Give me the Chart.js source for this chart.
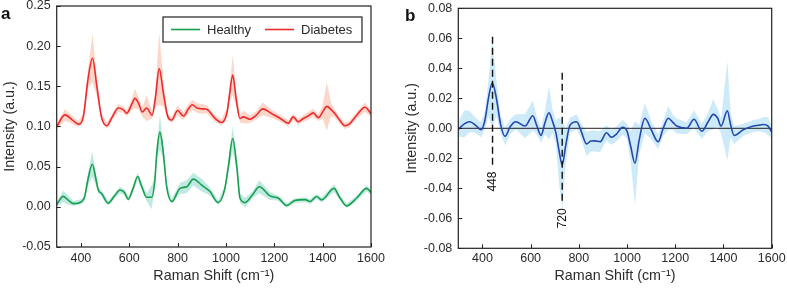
<!DOCTYPE html>
<html>
<head>
<meta charset="utf-8">
<script src="https://cdn.jsdelivr.net/npm/chart.js@4.4.1/dist/chart.umd.min.js"></script>
<style>
  body { margin: 0; background: #fff; }
  #wrap { position: relative; width: 787px; height: 288px; }
  canvas { position: absolute; top: 0; }
  #chart-a { left: 0; }
  #chart-b { left: 390px; }
</style>
</head>
<body>
<div id="wrap">
  <canvas id="chart-a" width="390" height="288"></canvas>
  <canvas id="chart-b" width="397" height="288"></canvas>
</div>
<script>
const shiftTicks = [400, 600, 800, 1000, 1200, 1400, 1600];
const intensityTicksA = [-0.05, 0, 0.05, 0.10, 0.15, 0.20, 0.25];
const intensityTicksB = [-0.08, -0.06, -0.04, -0.02, 0, 0.02, 0.04, 0.06, 0.08];

// panel a - diabetes
const diabetesShift = [300, 334, 365, 390, 410, 430, 448, 466, 485, 507, 530, 555, 575, 590, 608, 624, 640, 654, 672, 695, 708, 724, 742, 760, 776, 800, 824, 845, 861, 880, 900, 920, 955, 982, 1005, 1015, 1028, 1042, 1058, 1072, 1099, 1125, 1152, 1189, 1225, 1258, 1278, 1299, 1320, 1340, 1361, 1382, 1400, 1417, 1435, 1451, 1470, 1492, 1510, 1541, 1575, 1600];
const diabetesMean = [0.100, 0.1145, 0.108, 0.103, 0.112, 0.160, 0.185, 0.150, 0.112, 0.101, 0.112, 0.123, 0.121, 0.1165, 0.126, 0.135, 0.128, 0.118, 0.123, 0.114, 0.135, 0.172, 0.140, 0.112, 0.108, 0.120, 0.113, 0.122, 0.127, 0.123, 0.122, 0.1215, 0.110, 0.105, 0.118, 0.140, 0.164, 0.135, 0.110, 0.112, 0.109, 0.114, 0.122, 0.116, 0.110, 0.104, 0.112, 0.106, 0.110, 0.113, 0.117, 0.111, 0.118, 0.125, 0.121, 0.116, 0.108, 0.101, 0.103, 0.114, 0.124, 0.116];
const diabetesSd = [0.004, 0.007, 0.005, 0.004, 0.005, 0.012, 0.030, 0.012, 0.005, 0.004, 0.004, 0.005, 0.004, 0.004, 0.006, 0.012, 0.007, 0.006, 0.016, 0.004, 0.010, 0.045, 0.015, 0.004, 0.004, 0.006, 0.005, 0.006, 0.006, 0.006, 0.006, 0.005, 0.004, 0.004, 0.006, 0.010, 0.025, 0.010, 0.005, 0.008, 0.005, 0.005, 0.008, 0.005, 0.004, 0.004, 0.004, 0.004, 0.004, 0.005, 0.005, 0.004, 0.008, 0.030, 0.008, 0.005, 0.004, 0.004, 0.004, 0.004, 0.006, 0.004];

// panel a - healthy
const healthyShift = [300, 327, 345, 369, 403, 415, 430, 447, 462, 472, 486, 513, 540, 562, 580, 596, 615, 635, 652, 672, 693, 705, 715, 727, 740, 755, 776, 810, 838, 865, 900, 934, 968, 995, 1010, 1028, 1045, 1058, 1079, 1110, 1138, 1182, 1216, 1251, 1285, 1327, 1348, 1375, 1396, 1447, 1470, 1499, 1541, 1582, 1600];
const healthyMean = [0.003, 0.013, 0.009, 0.004, 0.0066, 0.012, 0.035, 0.053, 0.035, 0.021, 0.0166, 0.0046, 0.014, 0.021, 0.018, 0.0095, 0.022, 0.0377, 0.025, 0.012, 0.012, 0.030, 0.070, 0.093, 0.070, 0.025, 0.0066, 0.023, 0.025, 0.0345, 0.027, 0.019, 0.0053, 0.022, 0.050, 0.085, 0.050, 0.011, 0.0053, 0.015, 0.025, 0.0136, 0.011, 0.0016, 0.0078, 0.009, 0.0066, 0.0128, 0.0086, 0.023, 0.012, 0.0012, 0.011, 0.023, 0.018];
const healthySd = [0.003, 0.007, 0.006, 0.003, 0.003, 0.004, 0.008, 0.016, 0.008, 0.004, 0.004, 0.003, 0.003, 0.004, 0.004, 0.003, 0.004, 0.005, 0.004, 0.005, 0.015, 0.006, 0.010, 0.022, 0.010, 0.004, 0.003, 0.007, 0.008, 0.008, 0.008, 0.005, 0.003, 0.004, 0.008, 0.015, 0.008, 0.006, 0.006, 0.004, 0.008, 0.005, 0.003, 0.003, 0.003, 0.003, 0.003, 0.003, 0.003, 0.005, 0.003, 0.003, 0.003, 0.004, 0.003];

// panel b - difference spectrum
const diffShift = [300, 325, 348, 372, 394, 410, 425, 441, 458, 475, 494, 515, 538, 577, 609, 625, 643, 660, 676, 690, 705, 718, 731, 745, 763, 791, 810, 832, 850, 867, 888, 915, 935, 955, 982, 1000, 1015, 1033, 1050, 1074, 1102, 1129, 1150, 1171, 1190, 1206, 1247, 1278, 1310, 1335, 1358, 1375, 1390, 1416, 1430, 1444, 1482, 1524, 1545, 1565, 1585, 1600];
const diffMean = [-0.0007, 0.003, 0.0044, 0.002, -0.001, 0.005, 0.020, 0.0304, 0.020, 0.003, -0.0054, 0.001, 0.0044, 0.0015, 0.0084, 0.002, -0.0047, 0.004, 0.0104, 0.005, -0.003, -0.015, -0.0245, -0.012, 0.002, 0.0044, -0.002, -0.0104, -0.0085, -0.0084, -0.009, -0.003, -0.006, -0.004, 0.0007, -0.002, -0.012, -0.0233, -0.008, 0.0067, -0.0016, -0.009, 0.000, 0.0067, 0.004, 0.0015, 0.000, 0.006, -0.002, 0.004, 0.0093, 0.007, 0.0015, 0.0117, 0.002, -0.0047, -0.001, 0.0015, 0.002, 0.0025, 0.0015, -0.0024];
const diffSd = [0.005, 0.009, 0.007, 0.005, 0.005, 0.006, 0.012, 0.030, 0.012, 0.006, 0.006, 0.005, 0.005, 0.008, 0.010, 0.006, 0.005, 0.008, 0.018, 0.008, 0.008, 0.022, 0.030, 0.012, 0.005, 0.005, 0.005, 0.008, 0.007, 0.007, 0.007, 0.005, 0.005, 0.005, 0.005, 0.005, 0.010, 0.028, 0.010, 0.010, 0.006, 0.005, 0.005, 0.008, 0.005, 0.005, 0.004, 0.006, 0.005, 0.006, 0.010, 0.006, 0.005, 0.033, 0.008, 0.006, 0.004, 0.004, 0.004, 0.005, 0.006, 0.004];

// dashed peak markers in panel b
const markerShift = [442, 731];
const markerLabels = ['448', '720'];
const markerTop = [0.061, 0.037];
const markerBottom = [-0.0245, -0.051];
const markerTextAt = [-0.0355, -0.060];

const FONT = '"Liberation Sans", Arial, Helvetica, sans-serif';
const TEXT = '#2b2b2b';

const toPoints = (xs, ys) => xs.map((x, i) => ({ x: x, y: ys[i] }));
const offsetPoints = (xs, ys, sd, k) => xs.map((x, i) => ({ x: x, y: ys[i] + k * sd[i] }));

function lineSet(label, xs, ys, color) {
    return {
        label: label,
        data: toPoints(xs, ys),
        borderColor: color,
        borderWidth: 1.6,
        pointRadius: 0,
        cubicInterpolationMode: 'monotone',
        fill: false,
        order: 0
    };
}

function bandSets(xs, ys, sd, color) {
    return [{
        label: 'band',
        data: offsetPoints(xs, ys, sd, 1),
        borderWidth: 0,
        borderColor: color,
        backgroundColor: color,
        pointRadius: 0,
        tension: 0,
        fill: '+1',
        order: 2
    }, {
        label: 'band',
        data: offsetPoints(xs, ys, sd, -1),
        borderWidth: 0,
        borderColor: color,
        pointRadius: 0,
        tension: 0,
        fill: false,
        order: 2
    }];
}

function makeScales(yTicks, yMin, yMax, yWidth, yTitlePad, xHeight, xTickPad) {
    return {
        x: {
            type: 'linear',
            min: 300,
            max: 1600,
            afterBuildTicks: s => { s.ticks = shiftTicks.map(v => ({ value: v })); },
            afterFit: s => { s.height = xHeight; s.paddingLeft = 0; s.paddingRight = 0; },
            grid: { display: false, drawTicks: false },
            border: { display: false },
            ticks: {
                padding: xTickPad,
                color: TEXT,
                maxRotation: 0,
                font: { family: FONT, size: 12.5 },
                callback: v => String(v)
            },
            title: {
                display: true,
                text: 'Raman Shift (cm⁻¹)',
                color: TEXT,
                font: { family: FONT, size: 14.3 },
                padding: { top: 0, bottom: 3 }
            }
        },
        y: {
            min: yMin,
            max: yMax,
            afterBuildTicks: s => { s.ticks = yTicks.map(v => ({ value: v })); },
            afterFit: s => { s.width = yWidth; s.paddingTop = 0; s.paddingBottom = 0; },
            grid: { display: false, drawTicks: false },
            border: { display: false },
            ticks: {
                padding: 6,
                color: TEXT,
                font: { family: FONT, size: 12.5 },
                callback: v => v.toFixed(2)
            },
            title: {
                display: true,
                text: 'Intensity (a.u.)',
                color: TEXT,
                font: { family: FONT, size: 14.3 },
                padding: { top: yTitlePad, bottom: 0 }
            }
        }
    };
}

// frame, inward ticks and panel letter
const framePlugin = {
    id: 'frame',
    afterDraw(chart, args, opts) {
        const { ctx, chartArea: ca, scales } = chart;
        ctx.save();
        ctx.strokeStyle = '#222';
        ctx.lineWidth = 1.2;
        ctx.strokeRect(ca.left, ca.top, ca.right - ca.left, ca.bottom - ca.top);
        ctx.lineWidth = 1;
        scales.x.ticks.forEach(t => {
            const px = Math.round(scales.x.getPixelForValue(t.value)) + 0.5;
            ctx.beginPath();
            ctx.moveTo(px, ca.bottom);
            ctx.lineTo(px, ca.bottom - 4);
            ctx.stroke();
        });
        scales.y.ticks.forEach(t => {
            const py = Math.round(scales.y.getPixelForValue(t.value)) + 0.5;
            ctx.beginPath();
            ctx.moveTo(ca.left, py);
            ctx.lineTo(ca.left + 4, py);
            ctx.stroke();
        });
        ctx.fillStyle = '#111';
        ctx.font = 'bold 17px ' + FONT;
        ctx.textAlign = 'left';
        ctx.textBaseline = 'alphabetic';
        ctx.fillText(opts.letter, opts.letterX, opts.letterY);
        ctx.restore();
    }
};

// boxed legend in the top right corner of panel a
const legendBoxPlugin = {
    id: 'legendBox',
    afterDraw(chart) {
        const { ctx, chartArea: ca } = chart;
        const sets = chart.data.datasets.slice(0, 2);
        const x0 = ca.right - 208, y0 = ca.top + 11, w = 199, h = 25;
        const cy = y0 + h / 2;
        ctx.save();
        ctx.fillStyle = '#fff';
        ctx.fillRect(x0, y0, w, h);
        ctx.strokeStyle = '#222';
        ctx.lineWidth = 1.2;
        ctx.strokeRect(x0, y0, w, h);
        ctx.font = '13px ' + FONT;
        ctx.textBaseline = 'middle';
        ctx.fillStyle = TEXT;
        const starts = [x0 + 8, x0 + 102];
        sets.forEach((ds, i) => {
            ctx.strokeStyle = ds.borderColor;
            ctx.lineWidth = 1.6;
            ctx.beginPath();
            ctx.moveTo(starts[i], cy);
            ctx.lineTo(starts[i] + 29, cy);
            ctx.stroke();
            ctx.fillText(ds.label, starts[i] + 36, cy + 0.5);
        });
        ctx.restore();
    }
};

// dashed vertical markers with rotated labels
const markerPlugin = {
    id: 'markers',
    afterDatasetsDraw(chart) {
        const { ctx, scales } = chart;
        ctx.save();
        markerShift.forEach((v, i) => {
            const px = scales.x.getPixelForValue(v);
            ctx.strokeStyle = '#111';
            ctx.lineWidth = 1.4;
            ctx.setLineDash([7, 4]);
            ctx.beginPath();
            ctx.moveTo(px, scales.y.getPixelForValue(markerTop[i]));
            ctx.lineTo(px, scales.y.getPixelForValue(markerBottom[i]));
            ctx.stroke();
            ctx.setLineDash([]);
            ctx.translate(px, scales.y.getPixelForValue(markerTextAt[i]));
            ctx.rotate(-Math.PI / 2);
            ctx.fillStyle = '#111';
            ctx.font = '12px ' + FONT;
            ctx.textAlign = 'center';
            ctx.textBaseline = 'middle';
            ctx.fillText(markerLabels[i], 0, 0);
            ctx.setTransform(1, 0, 0, 1, 0, 0);
        });
        ctx.restore();
    }
};

const chartA = new Chart(document.getElementById('chart-a'), {
    type: 'line',
    data: {
        datasets: [
            lineSet('Healthy', healthyShift, healthyMean, '#16a04b'),
            lineSet('Diabetes', diabetesShift, diabetesMean, '#ee2a2e'),
            ...bandSets(healthyShift, healthyMean, healthySd, 'rgba(178, 228, 220, 0.8)'),
            ...bandSets(diabetesShift, diabetesMean, diabetesSd, 'rgba(250, 196, 178, 0.7)')
        ]
    },
    options: {
        responsive: false,
        animation: false,
        events: [],
        devicePixelRatio: 1,
        layout: { padding: { left: 0, right: 19, top: 6, bottom: 0 } },
        scales: makeScales(intensityTicksA, -0.05, 0.25, 56.7, 1.4, 41, 4),
        plugins: {
            legend: { display: false },
            tooltip: { enabled: false },
            frame: { letter: 'a', letterX: 1, letterY: 19 }
        }
    },
    plugins: [framePlugin, legendBoxPlugin]
});

const chartB = new Chart(document.getElementById('chart-b'), {
    type: 'line',
    data: {
        datasets: [
            lineSet('Difference', diffShift, diffMean, '#2347ad'),
            {
                label: 'zero',
                data: [{ x: 300, y: 0 }, { x: 1600, y: 0 }],
                borderColor: '#222',
                borderWidth: 1,
                pointRadius: 0,
                fill: false,
                order: 1
            },
            ...bandSets(diffShift, diffMean, diffSd, 'rgba(196, 230, 248, 0.85)')
        ]
    },
    options: {
        responsive: false,
        animation: false,
        events: [],
        devicePixelRatio: 1,
        layout: { padding: { left: 0, right: 15.3, top: 8.3, bottom: 0 } },
        scales: makeScales(intensityTicksB, -0.08, 0.08, 68.3, 13.9, 39.7, 2.5),
        plugins: {
            legend: { display: false },
            tooltip: { enabled: false },
            frame: { letter: 'b', letterX: 15, letterY: 20.5 }
        }
    },
    plugins: [framePlugin, markerPlugin]
});
</script>
</body>
</html>
